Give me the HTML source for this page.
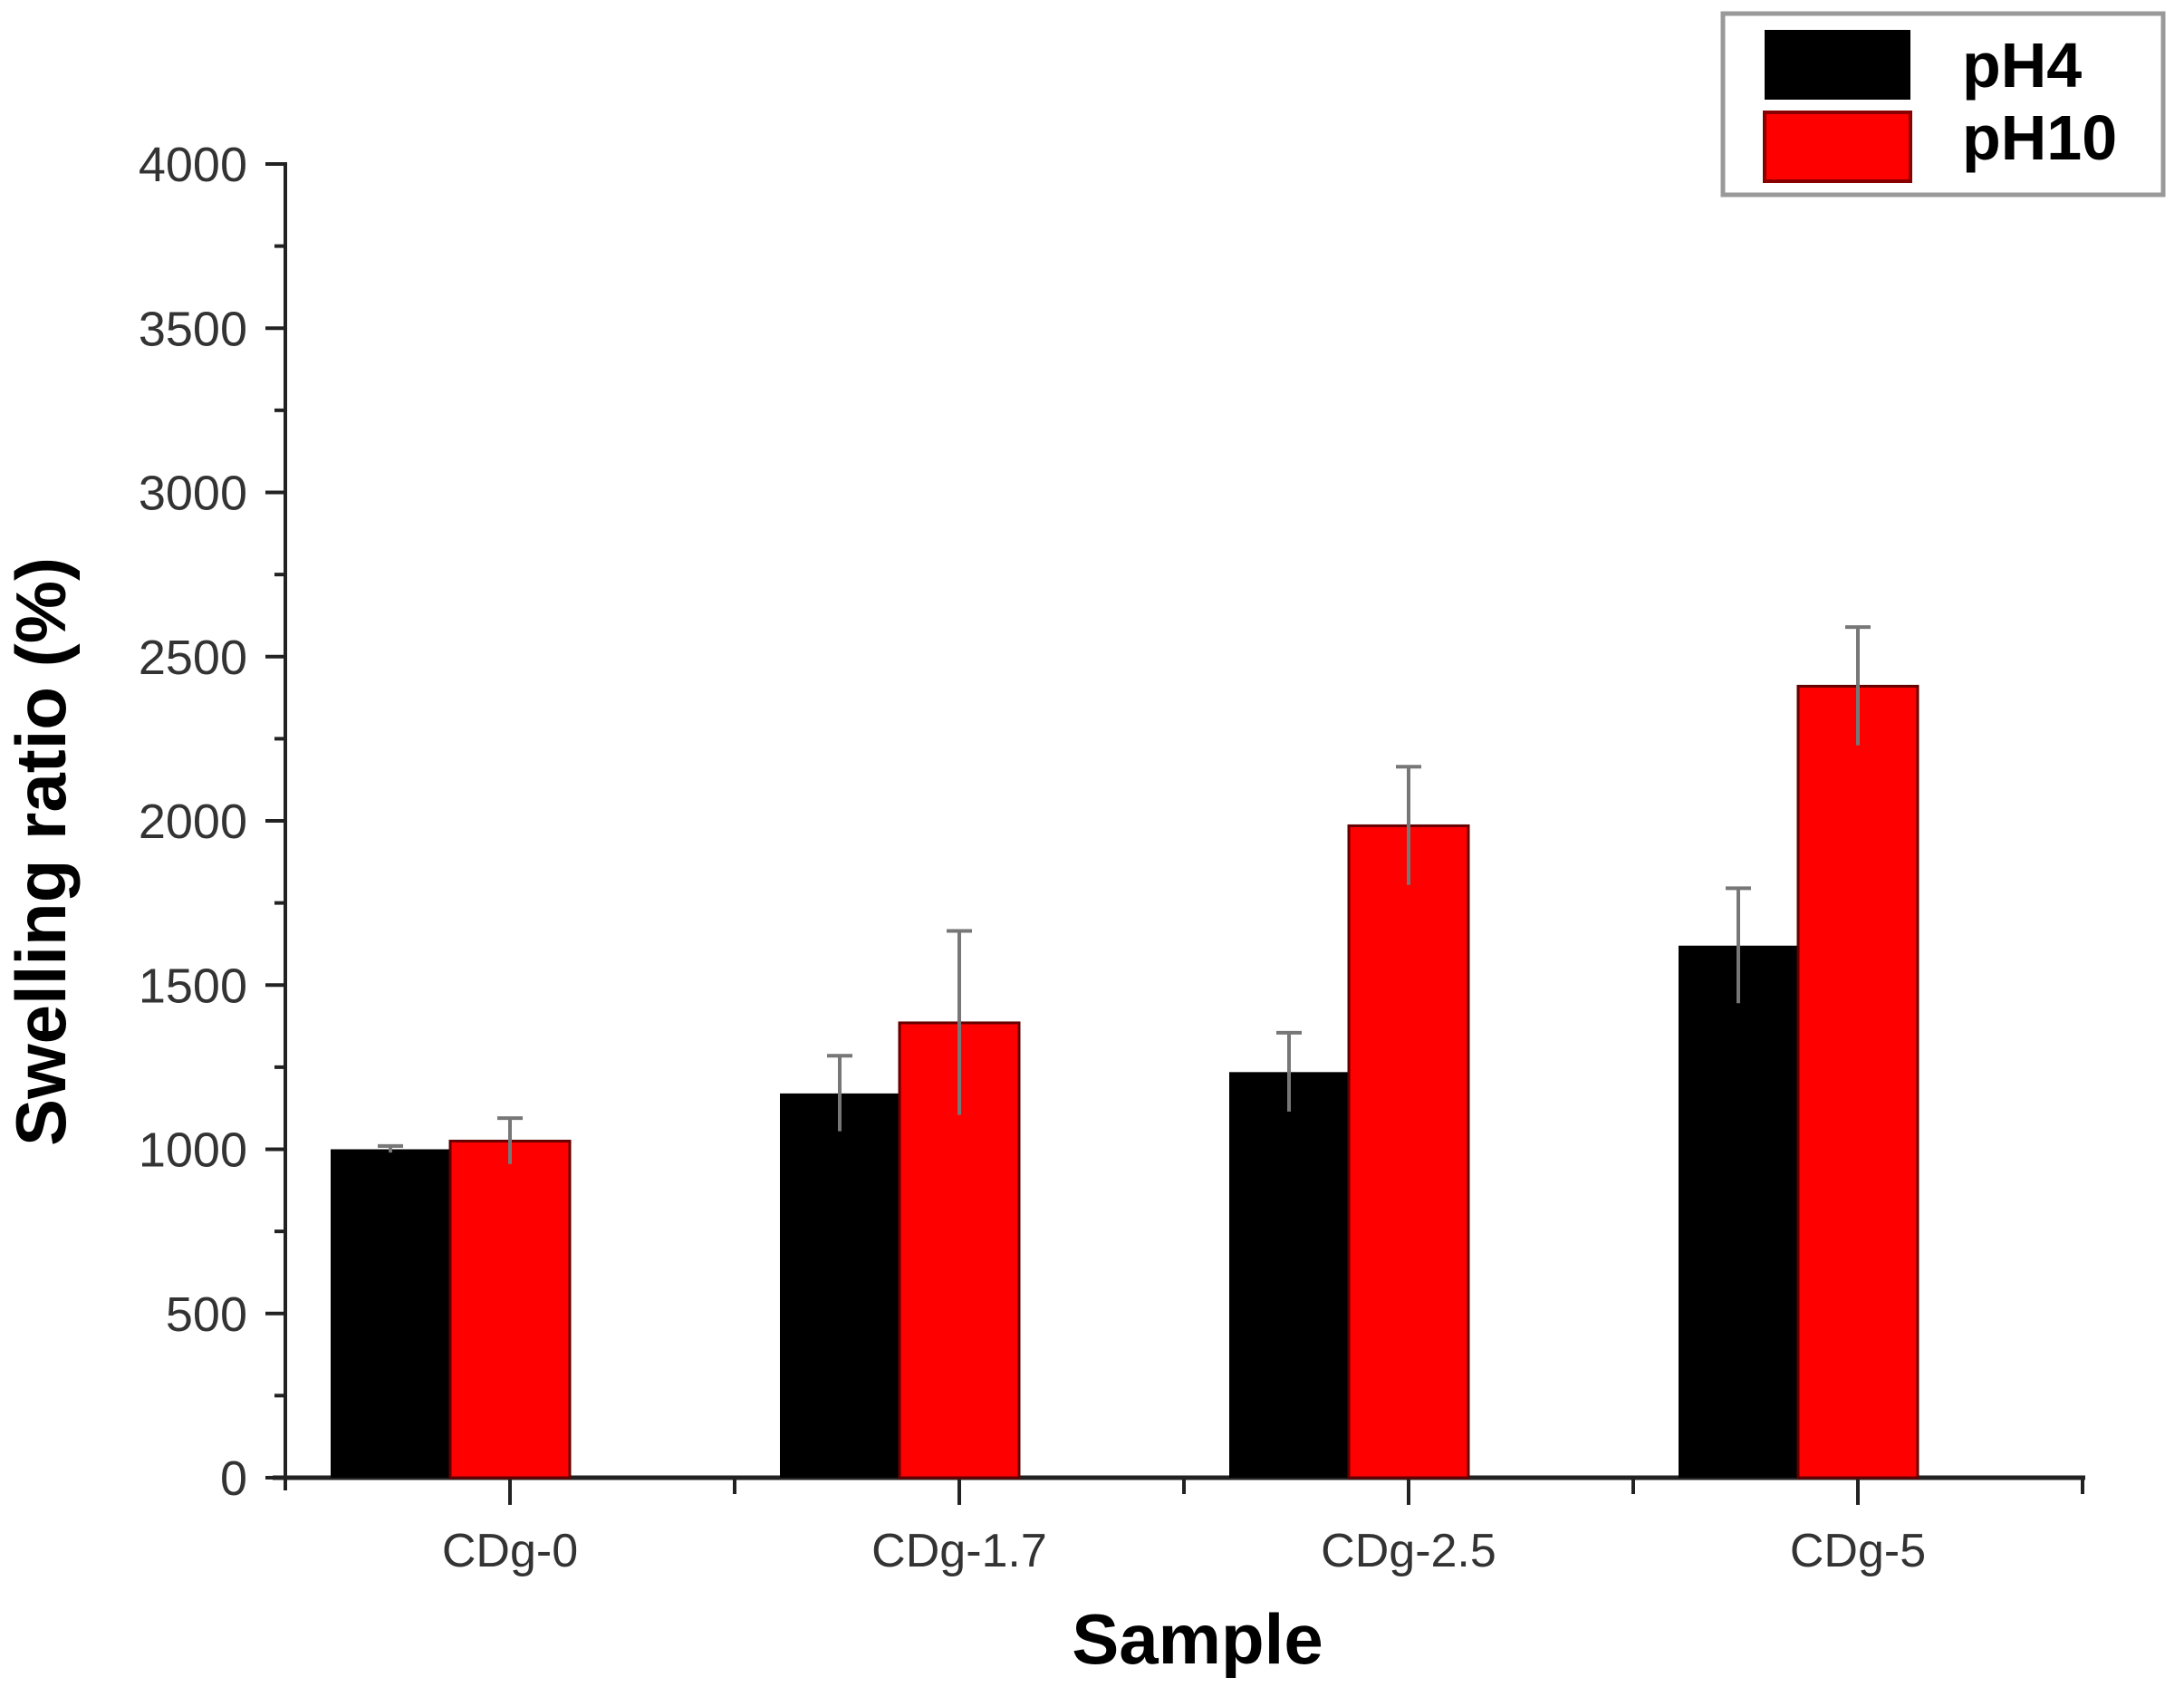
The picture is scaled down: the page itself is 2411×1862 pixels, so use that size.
<!DOCTYPE html>
<html><head><meta charset="utf-8"><style>
html,body{margin:0;padding:0;background:#fff;}
svg{display:block;}
</style></head><body>
<svg id="chart" width="2411" height="1862" viewBox="0 0 2411 1862" xmlns="http://www.w3.org/2000/svg">
<g id="axes"></g>
<g id="bars"></g>
<text x="1322" y="1836" font-family="Liberation Sans, sans-serif" font-weight="bold" font-size="78" text-anchor="middle" fill="#000">Sample</text>
<text transform="translate(72,940) rotate(-90)" font-family="Liberation Sans, sans-serif" font-weight="bold" font-size="78" text-anchor="middle" fill="#000">Swelling ratio (%)</text>
<g>
<rect x="1902" y="15" width="486" height="200" fill="#fff" stroke="#999" stroke-width="5"/>
<rect x="1948" y="33" width="161" height="77" fill="#000"/>
<rect x="1948" y="124" width="161" height="76" fill="#f00" stroke="#800" stroke-width="4"/>
<text x="2166" y="96" font-family="Liberation Sans, sans-serif" font-weight="bold" font-size="70" fill="#000">pH4</text>
<text x="2166" y="176" font-family="Liberation Sans, sans-serif" font-weight="bold" font-size="70" fill="#000">pH10</text>
</g>
</svg>
<script>
const categories = ["CDg-0", "CDg-1.7", "CDg-2.5", "CDg-5"];
const ph4Values = [1000, 1170, 1235, 1620];
const ph10Values = [1025, 1385, 1985, 2410];
const ph4Errors = [10, 115, 120, 175];
const ph10Errors = [70, 280, 180, 180];
const yTicks = [0, 500, 1000, 1500, 2000, 2500, 3000, 3500, 4000];

const NS = "http://www.w3.org/2000/svg";
const X0 = 315, X1 = 2302, Y0 = 1631, Y1 = 181, YMAX = 4000;
const groupW = 496, firstCenter = 497, barW = 132, tickOffset = 66;
function yScale(v){ return Y0 - (v / YMAX) * (Y0 - Y1); }
function xCenter(i){ return firstCenter + i * groupW; }
function mk(tag, attrs, parent){
  const e = document.createElementNS(NS, tag);
  for (const k in attrs) e.setAttribute(k, attrs[k]);
  parent.appendChild(e);
  return e;
}
const axes = document.getElementById("axes");
const bars = document.getElementById("bars");

categories.forEach((c, i) => {
  const cx = xCenter(i);
  const b1 = mk("rect", {x: cx - barW, y: yScale(ph4Values[i]), width: barW, height: Y0 - yScale(ph4Values[i]), fill: "#000"}, bars);
  
  
  const b2 = mk("rect", {x: cx, y: yScale(ph10Values[i]), width: barW, height: Y0 - yScale(ph10Values[i]), fill: "#f00", stroke: "#600", "stroke-width": 3}, bars);
  
  
  [[cx - barW/2, ph4Values[i], ph4Errors[i], 'ph4'], [cx + barW/2, ph10Values[i], ph10Errors[i], 'ph10']].forEach(([ex, v, e, s]) => {
    const g = mk("g", {stroke: "#777", "stroke-width": 4}, bars);
    
    
    mk("line", {x1: ex, x2: ex, y1: yScale(v - e), y2: yScale(v + e)}, g);
    mk("line", {x1: ex - 14, x2: ex + 14, y1: yScale(v + e), y2: yScale(v + e)}, g);
  });
});

const ya = mk("line", {x1: X0, x2: X0, y1: Y1 - 2, y2: Y0 + 14, stroke: "#222", "stroke-width": 4}, axes);


const xa = mk("line", {x1: X0 - 14, x2: X1, y1: Y0, y2: Y0, stroke: "#222", "stroke-width": 5}, axes);



yTicks.forEach(t => {
  const y = yScale(t);
  const tk = mk("line", {x1: X0 - 22, x2: X0, y1: y, y2: y, stroke: "#222", "stroke-width": 4}, axes);
  
  
  const lb = mk("text", {x: X0 - 42, y: y + 19, "text-anchor": "end", "font-family": "Liberation Sans, sans-serif", "font-size": 54, fill: "#333"}, axes);
  lb.textContent = t;
  
  
  if (t < YMAX) {
    const m = yScale(t + 250);
    const mt = mk("line", {x1: X0 - 12, x2: X0, y1: m, y2: m, stroke: "#222", "stroke-width": 4}, axes);
    
    
  }
});

categories.forEach((c, i) => {
  const cx = xCenter(i) + tickOffset;
  const tk = mk("line", {x1: cx, x2: cx, y1: Y0, y2: Y0 + 30, stroke: "#222", "stroke-width": 4}, axes);
  
  
  const mx = cx + groupW / 2;
  const mt = mk("line", {x1: mx, x2: mx, y1: Y0, y2: Y0 + 18, stroke: "#222", "stroke-width": 4}, axes);
  
  
  const lb = mk("text", {x: cx, y: Y0 + 98, "text-anchor": "middle", "font-family": "Liberation Sans, sans-serif", "font-size": 52, fill: "#333"}, axes);
  lb.textContent = c;
  
  
});
</script>
</body></html>
